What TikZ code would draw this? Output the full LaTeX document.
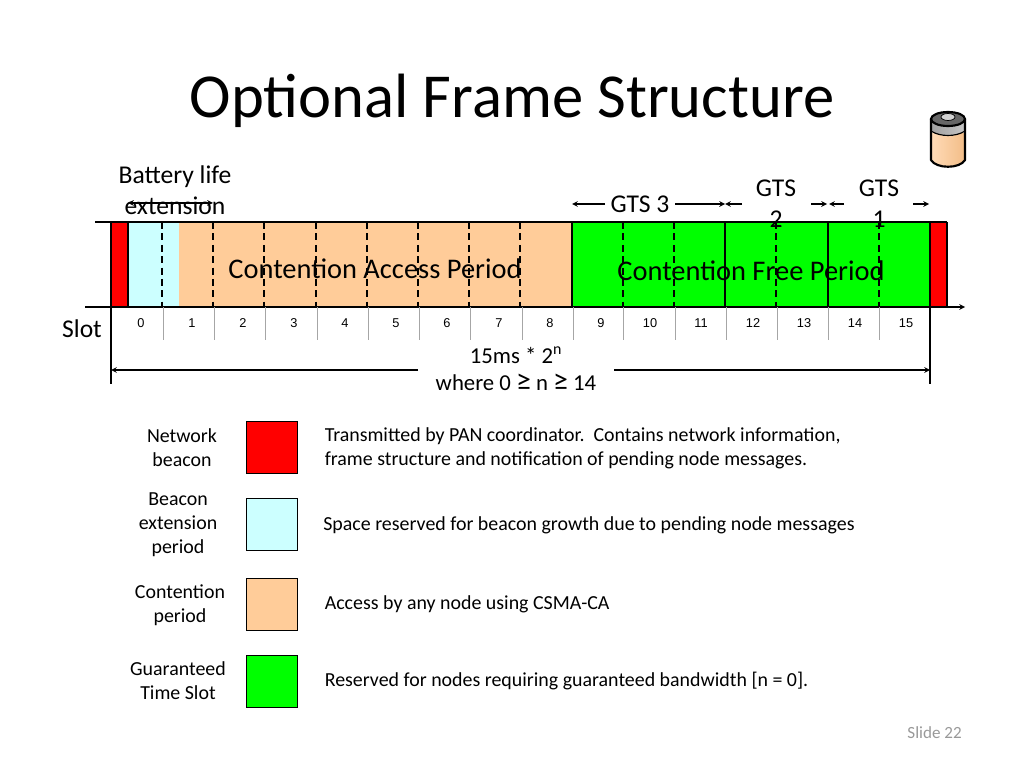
\documentclass[tikz,border=0pt]{standalone}
\usepackage{fontspec}
\setmainfont{Carlito}
\newfontfamily\slotfont{Liberation Sans}
\usepackage{tikz}
\usetikzlibrary{positioning, arrows}
\newcommand{\pxu}{0.703125pt}
\newcommand{\atleast}{{\fontsize{21}{19}\selectfont ≥}}
\definecolor{beaconred}{RGB}{255,0,0}
\definecolor{extcyan}{RGB}{204,255,255}
\definecolor{accessorange}{RGB}{255,204,153}
\definecolor{freegreen}{RGB}{0,255,0}
\tikzstyle{block} = [rectangle, inner sep=0pt, outer sep=0pt, anchor=north west, minimum height=85*\pxu]
\tikzstyle{swatch} = [block, draw=black, line width=0.7pt, minimum width=51*\pxu, minimum height=52*\pxu]
\tikzstyle{label} = [inner sep=0pt, align=center, font=\fontsize{14}{17}\selectfont]
\tikzstyle{biglabel} = [label, font=\fontsize{18}{22}\selectfont]
\tikzstyle{note} = [inner sep=0pt, align=left, anchor=west, font=\fontsize{14}{17}\selectfont]
\tikzstyle{arrow} = [line width=0.8pt,->,>=stealth]
\tikzstyle{slash} = [line width=0.8pt, dash pattern=on 5pt off 3pt]
\tikzstyle{edge} = [line width=0.8pt]

\begin{document}
\begin{tikzpicture}[x=\pxu, y=-\pxu]
\useasboundingbox (0,0) rectangle (1024,768);
\node (title)[inner sep=0pt, font=\fontsize{44}{50}\selectfont] at (512,101){Optional Frame Structure};
% frame
\node (redleft)[block, fill=beaconred, minimum width=17*\pxu] at (111,222){};
\node (ext)[block, fill=extcyan, minimum width=51*\pxu] at (128,222){};
\node (access)[block, fill=accessorange, minimum width=393*\pxu] at (179,222){};
\node (free)[block, fill=freegreen, minimum width=358*\pxu] at (572,222){};
\node (redright)[block, fill=beaconred, minimum width=17*\pxu] at (930,222){};
\foreach \x in {162,213,264,316,367,418,469,520,623,674,776,879}
  \draw [slash] (\x,222) -- (\x,307);
\draw [edge] (redleft.north west) -- (redleft.south west);
\draw [edge] (redleft.north east) -- (redleft.south east);
\draw [edge] (free.north west) -- (free.south west);
\draw [edge] (725,222) -- (725,307);
\draw [edge] (828,222) -- (828,307);
\draw [edge] (redright.north west) -- (redright.south west);
\draw [edge] (redright.north east) -- (redright.south east);
\coordinate (topstart) at (95,222);
\coordinate (axisstart) at (85,307);
\coordinate (axisend) at (965,307);
\draw [edge] (topstart) -- (redright.north east);
\draw [arrow] (axisstart) -- (axisend);
\node (accesstext)[label, font=\fontsize{20}{24}\selectfont] at (375,269){Contention Access Period};
\node (freetext)[label, font=\fontsize{20}{24}\selectfont] at (751,271){Contention Free Period};
% slots
\foreach \x in {163,214,265,317,368,419,470,522,573,623,675,726,777,828,879}
  \draw [gray!70, line width=0.5pt] (\x,307) -- (\x,340);
\foreach \n/\x in {0/141,1/192,2/243,3/294,4/345,5/396,6/447,7/499,8/550,9/601,10/650,11/701,12/753,13/804,14/855,15/906}
  \node (slot\n)[inner sep=0pt, font=\slotfont\fontsize{9}{11}\selectfont] at (\x,323){\n};
\node (slot)[biglabel] at (82,329){Slot};
% span
\coordinate (spanleft) at (111,384);
\coordinate (spanright) at (930,384);
\coordinate (spanleftin) at (111,370);
\coordinate (spanrightin) at (930,370);
\draw [edge] (redleft.south west) -- (spanleft);
\draw [edge] (redright.south west) -- (spanright);
\node (span)[label, font=\fontsize{16}{19}\selectfont] at (516,369){15ms * 2\textsuperscript{n}\\where 0 \atleast{} n \atleast{} 14};
\coordinate (spanstop) at (418,370);
\coordinate (spanstart) at (614,370);
\draw [arrow] (spanstop) -- (spanleftin);
\draw [arrow] (spanstart) -- (spanrightin);
% top labels
\node (battery)[biglabel] at (175,190){Battery life\\extension};
\coordinate (batleft) at (128,203);
\coordinate (batright) at (213,203);
\draw [arrow, <->] (batleft) -- (batright);
\node (gtsthree)[biglabel] at (640,204){GTS 3};
\node (gtstwo)[biglabel] at (776,204){GTS\\2};
\node (gtsone)[biglabel] at (879,204){GTS\\1};
\coordinate (a) at (572,204);
\coordinate (b) at (725,204);
\coordinate (c) at (742,204);
\coordinate (d) at (811,204);
\coordinate (e) at (827,204);
\coordinate (f) at (844,204);
\coordinate (g) at (829,204);
\coordinate (h) at (913,204);
\coordinate (i) at (929,204);
\coordinate (j) at (605,204);
\coordinate (k) at (675,204);
\draw [arrow] (j) -- (a);
\draw [arrow] (k) -- (b);
\draw [arrow] (c) -- (b);
\draw [arrow] (d) -- (e);
\draw [arrow] (f) -- (g);
\draw [arrow] (h) -- (i);
% battery icon
\shade [left color=accessorange!70!white, right color=accessorange!80!brown] (931,133) -- (931,160) .. controls (936,169) and (960,169) .. (965,160) -- (965,133) -- cycle;
\shade [left color=gray!75, right color=gray!45] (931,119) -- (931,131) .. controls (940,137) and (956,137) .. (965,131) -- (965,119) -- cycle;
\fill [black!60] (948,119) ellipse (17 and 7);
\fill [gray!35] (948,117) ellipse (7 and 3.5);
\draw [line width=1.5pt] (931,119) -- (931,160) .. controls (936,169) and (960,169) .. (965,160) -- (965,119);
\draw [line width=1.5pt] (948,119) ellipse (17 and 7);
\draw [line width=0.8pt] (931,131) .. controls (940,137) and (956,137) .. (965,131);
\draw [line width=0.5pt] (948,117) ellipse (7 and 3.5);
% legend
\node (swred)[swatch, fill=beaconred] at (246.5,421){};
\node (swext)[swatch, fill=extcyan] at (246.5,498){};
\node (swaccess)[swatch, fill=accessorange] at (246.5,578){};
\node (swfree)[swatch, fill=freegreen] at (246.5,655){};
\node (lbred)[label] at (182,447.5){Network\\beacon};
\node (lbext)[label] at (178,525){Beacon\\extension\\period};
\node (lbaccess)[label] at (180,605){Contention\\period};
\node (lbfree)[label] at (178,681){Guaranteed\\Time Slot};
\node (ntred)[note] at (324.5,448.5){Transmitted by PAN coordinator.\ \ Contains network information,\\frame structure and notification of pending node messages.};
\node (ntext)[note] at (323,525){Space reserved for beacon growth due to pending node messages};
\node (ntaccess)[note] at (324.5,604){Access by any node using CSMA-CA};
\node (ntfree)[note] at (324.5,681){Reserved for nodes requiring guaranteed bandwidth [n = 0].};
\node (page)[inner sep=0pt, anchor=east, text=gray!80, font=\fontsize{12}{14}\selectfont] at (962,733){Slide 22};
\end{tikzpicture}
\end{document}
